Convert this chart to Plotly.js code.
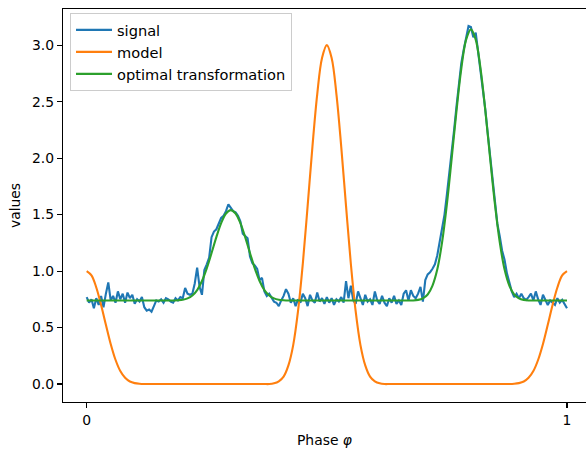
<!DOCTYPE html>
<html>
<head>
<meta charset="utf-8">
<script src="https://cdn.plot.ly/plotly-3.0.1.min.js"></script>
<style>html,body{margin:0;padding:0;background:#fff;}#chart{width:586px;height:452px;}</style>
</head>
<body>
<div id="chart"></div>
<script>
// ---- data ----
const seriesNames = ["signal", "model", "optimal transformation"];
const signalStep = 0.005;   // phase sampling of the signal
const curveStep = 0.01;     // phase sampling of model / transformation

const signalValues = [
0.77,0.72,0.75,0.67,0.76,0.70,0.78,0.68,0.80,0.90,
0.74,0.78,0.72,0.82,0.75,0.80,0.72,0.81,0.76,0.79,
0.71,0.75,0.73,0.77,0.68,0.65,0.66,0.64,0.69,0.74,
0.73,0.75,0.72,0.76,0.75,0.73,0.72,0.76,0.74,0.77,
0.76,0.85,0.80,0.79,0.80,0.89,1.03,0.86,0.79,1.01,
1.06,1.12,1.30,1.35,1.37,1.42,1.47,1.49,1.53,1.59,
1.56,1.53,1.52,1.49,1.44,1.33,1.31,1.29,1.13,1.07,
1.05,1.02,0.92,0.94,0.82,0.78,0.80,0.76,0.73,0.72,
0.69,0.74,0.78,0.84,0.80,0.72,0.76,0.69,0.75,0.72,
0.80,0.76,0.69,0.79,0.74,0.72,0.81,0.73,0.76,0.71,
0.77,0.72,0.76,0.70,0.75,0.73,0.77,0.72,0.91,0.76,
0.87,0.74,0.71,0.82,0.76,0.70,0.79,0.73,0.75,0.70,
0.82,0.74,0.71,0.78,0.72,0.69,0.76,0.72,0.78,0.71,
0.74,0.70,0.80,0.83,0.74,0.83,0.78,0.76,0.80,0.86,
0.73,0.92,0.97,0.99,1.02,1.06,1.14,1.26,1.38,1.50,
1.68,1.86,2.05,2.25,2.46,2.66,2.84,2.96,3.06,3.17,
3.16,3.07,3.11,2.95,2.80,2.64,2.43,2.22,2.02,1.78,
1.56,1.42,1.31,1.18,1.10,0.98,0.90,0.82,0.77,0.80,
0.76,0.80,0.76,0.745,0.77,0.80,0.74,0.82,0.75,0.70,
0.79,0.74,0.70,0.74,0.72,0.70,0.76,0.72,0.745,0.70,
0.67
];

const modelValues = [
1.000,0.962,0.855,0.700,0.525,0.355,0.215,0.115,0.055,0.022,
0.008,0.002,0,0,0,0,0,0,0,0,
0,0,0,0,0,0,0,0,0,0,
0,0,0,0,0,0,0,0,0,0.006,
0.024,0.066,0.165,0.345,0.645,1.065,1.575,2.100,2.565,2.886,
3.000,2.886,2.565,2.100,1.575,1.065,0.645,0.345,0.165,0.066,
0.024,0.006,0,0,0,0,0,0,0,0,
0,0,0,0,0,0,0,0,0,0,
0,0,0,0,0,0,0,0,0,0.002,
0.008,0.022,0.055,0.115,0.215,0.355,0.525,0.700,0.855,0.962,
1.000
];

const transformValues = [
0.74,0.74,0.74,0.74,0.74,0.74,0.74,0.74,0.74,0.74,
0.74,0.74,0.74,0.74,0.74,0.74,0.74,0.74,0.74,0.742,
0.746,0.758,0.784,0.832,0.912,1.024,1.160,1.300,1.424,1.510,
1.540,1.510,1.424,1.300,1.160,1.024,0.912,0.832,0.784,0.758,
0.746,0.742,0.74,0.74,0.74,0.74,0.74,0.74,0.74,0.74,
0.74,0.74,0.74,0.74,0.74,0.74,0.74,0.74,0.74,0.74,
0.74,0.74,0.74,0.74,0.74,0.74,0.74,0.74,0.74,0.745,
0.759,0.793,0.872,1.016,1.256,1.592,2.000,2.420,2.792,3.049,
3.140,3.049,2.792,2.420,2.000,1.592,1.256,1.016,0.872,0.793,
0.759,0.745,0.74,0.74,0.74,0.74,0.74,0.74,0.74,0.74,
0.74
];

const xTickVals = [0, 1];
const xTickText = ["0", "1"];
const yTickVals = [0, 0.5, 1, 1.5, 2, 2.5, 3];
const yTickText = ["0.0", "0.5", "1.0", "1.5", "2.0", "2.5", "3.0"];

// phase grids
const signalPhase = signalValues.map((_, i) => +(i * signalStep).toFixed(4));
const curvePhase = modelValues.map((_, i) => +(i * curveStep).toFixed(4));

const colors = ["#1f77b4", "#ff7f0e", "#2ca02c"];
const font = "DejaVu Sans, Liberation Sans, sans-serif";

const traces = [
  {x: signalPhase, y: signalValues, name: seriesNames[0], mode: "lines",
   line: {color: colors[0], width: 2.1}},
  {x: curvePhase, y: modelValues, name: seriesNames[1], mode: "lines",
   line: {color: colors[1], width: 2.1, shape: "spline", smoothing: 1}},
  {x: curvePhase, y: transformValues, name: seriesNames[2], mode: "lines",
   line: {color: colors[2], width: 2.1, shape: "spline", smoothing: 1}}
];

const layout = {
  width: 586, height: 452,
  margin: {l: 63, r: 0, t: 9, b: 50},
  paper_bgcolor: "#fff", plot_bgcolor: "#fff",
  font: {family: font, size: 13.9, color: "#000"},
  showlegend: true,
  legend: {x: 0.0134, y: 0.99, xanchor: "left", yanchor: "top",
           bgcolor: "rgba(255,255,255,0.8)", bordercolor: "#cccccc", borderwidth: 1,
           font: {family: font, size: 14.6, color: "#000"},
           itemwidth: 36, traceorder: "normal"},
  xaxis: {range: [-0.0493, 1.0396], showgrid: false, zeroline: false,
          showline: true, mirror: true, linecolor: "#000", linewidth: 1.1,
          ticks: "outside", ticklen: 5, tickwidth: 1.1, tickcolor: "#000",
          tickvals: xTickVals, ticktext: xTickText,
          tickfont: {family: font, size: 13.9, color: "#000"},
          title: {text: "Phase <i>φ</i>", font: {family: font, size: 13.9, color: "#000"}, standoff: 8}},
  yaxis: {range: [-0.159, 3.32], showgrid: false, zeroline: false,
          showline: true, mirror: false, linecolor: "#000", linewidth: 1.1,
          ticks: "outside", ticklen: 5, tickwidth: 1.1, tickcolor: "#000",
          tickvals: yTickVals, ticktext: yTickText,
          tickfont: {family: font, size: 13.9, color: "#000"},
          title: {text: "values", font: {family: font, size: 13.9, color: "#000"}, standoff: 8}}
};

Plotly.newPlot("chart", traces, layout, {displayModeBar: false, staticPlot: true});
</script>
</body>
</html>
